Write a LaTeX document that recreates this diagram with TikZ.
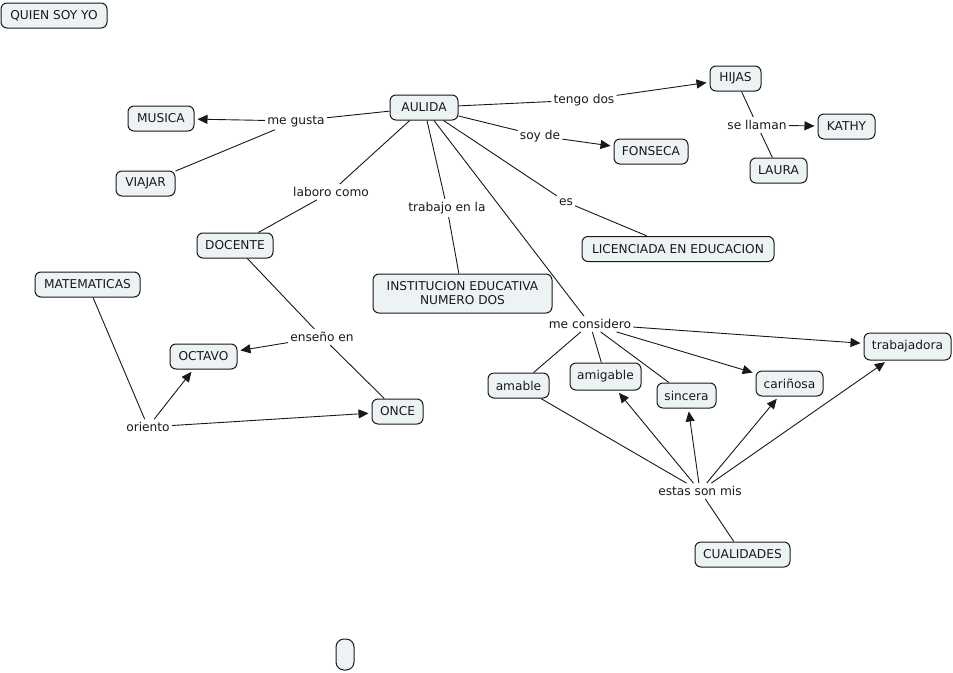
\documentclass[tikz,border=0pt]{standalone}
\usepackage{fontspec}
\setmainfont{DejaVu Sans}
\usetikzlibrary{arrows.meta}
\definecolor{cmfill}{RGB}{237,243,245}
\definecolor{cmline}{RGB}{25,25,25}
\tikzset{
  cpt/.style={draw=cmline, fill=cmfill, rounded corners=6pt, line width=1pt,
              minimum width=#1, minimum height=25pt, inner xsep=3pt, inner ysep=2pt,
              align=center, text=cmline},
  cpt/.default=60pt,
  lnk/.style={inner xsep=2pt, inner ysep=3pt, text=cmline},
  ln/.style={draw=cmline, line width=0.9pt},
  arr/.style={ln, -{Triangle[length=10pt,width=9pt]}, shorten >=3pt},
}

\begin{document}
\begin{tikzpicture}[x=1pt, y=-1pt, font=\fontsize{12.2}{14}\selectfont]
\useasboundingbox[fill=white] (0,0) rectangle (953,672);
% Concepts
\foreach \nm/\x/\y/\w/\txt in {
  quien/54/15.5/106/QUIEN SOY YO,
  musica/161/118.5/66/MUSICA,
  viajar/145.5/183.5/59/VIAJAR,
  aulida/424/107.5/68/AULIDA,
  hijas/735.5/78.5/51/HIJAS,
  kathy/846.5/126.5/57/KATHY,
  laura/778.5/170.5/57/LAURA,
  fonseca/651/151.5/74/FONSECA,
  licen/678/249/192/LICENCIADA EN EDUCACION,
  docente/235/245.5/76/DOCENTE,
  mate/87.5/284.5/105/MATEMATICAS,
  octavo/203.5/356.5/67/OCTAVO,
  once/397.5/411.5/51/ONCE,
  amable/518.5/385.5/61/amable,
  sincera/686.5/395.5/59/sincera,
  carinosa/789.5/383.5/67/cariñosa,
  cualid/742.5/554.5/95/CUALIDADES}{
  \node[cpt=\w pt] (\nm) at (\x,\y) {\txt};
}
\node[cpt=87pt, minimum height=27pt] (trabaj) at (907.5,346.5) {trabajadora};
\node[cpt=71pt, minimum height=27pt] (amigable) at (605.5,376.5) {amigable};
\node[cpt=179pt, minimum height=39pt] (inst) at (462.5,293.5) {INSTITUCION EDUCATIVA\\NUMERO DOS};
\node[cpt=18pt, minimum height=31pt, inner xsep=0pt, rounded corners=8pt] (vacio) at (345,654.5) {};
% Linking phrases
\foreach \nm/\x/\y/\txt in {
  megusta/296/121/me gusta,
  tengo/584/100/tengo dos,
  soyde/540/136/soy de,
  laboro/331/192/laboro como,
  trabajo/447/208/trabajo en la,
  es/566/202/es,
  sellaman/757/125/se llaman,
  ensenio/322/337/enseño en,
  oriento/148/427/oriento,
  conside/590/324/me considero,
  estas/700/491/estas son mis}{
  \node[lnk] (\nm) at (\x,\y) {\txt};
}
% Plain connectors
\foreach \a/\b in {aulida/megusta, megusta/viajar, aulida/tengo, aulida/soyde,
  aulida/laboro, laboro/docente, aulida/trabajo, trabajo/inst, aulida/es, es/licen,
  hijas/sellaman, sellaman/laura, docente/ensenio, ensenio/once, mate/oriento,
  aulida/conside, conside/amable, conside/amigable, conside/sincera,
  cualid/estas, estas/amable}{
  \draw[ln] (\a) -- (\b);
}
% Arrows
\foreach \a/\b in {megusta/musica, tengo/hijas, soyde/fonseca, sellaman/kathy,
  ensenio/octavo, oriento/octavo, oriento/once, conside/trabaj, conside/carinosa,
  estas/amigable, estas/sincera, estas/carinosa, estas/trabaj}{
  \draw[arr] (\a) -- (\b);
}
\end{tikzpicture}
\end{document}
